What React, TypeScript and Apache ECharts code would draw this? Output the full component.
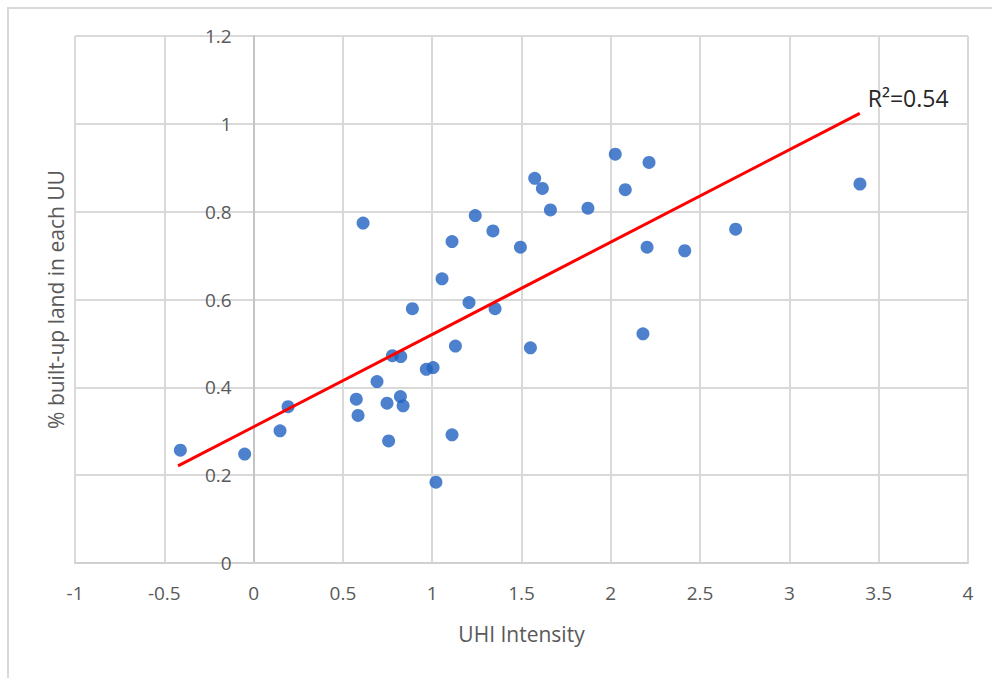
import React, { useEffect, useRef } from "react";
import * as echarts from "echarts";

const uhiIntensity = [
  -0.41, -0.05, 0.148, 0.193, 0.575, 0.585, 0.613, 0.691, 0.747, 0.756,
  0.777, 0.822, 0.824, 0.837, 0.889, 0.967, 1.005, 1.021, 1.055, 1.111,
  1.111, 1.13, 1.206, 1.241, 1.34, 1.352, 1.494, 1.55, 1.574, 1.617,
  1.662, 1.872, 2.025, 2.081, 2.18, 2.203, 2.214, 2.414, 2.699, 3.395,
];
const builtUpShare = [
  0.257, 0.248, 0.301, 0.356, 0.373, 0.336, 0.774, 0.413, 0.364, 0.278,
  0.472, 0.379, 0.47, 0.358, 0.579, 0.441, 0.445, 0.184, 0.647, 0.732,
  0.292, 0.494, 0.593, 0.791, 0.756, 0.579, 0.719, 0.49, 0.876, 0.853,
  0.804, 0.808, 0.931, 0.85, 0.522, 0.719, 0.912, 0.711, 0.76, 0.863,
];
const trendX = [-0.423, 3.394];
const trendY = [0.221, 1.024];
const rSquaredLabel = "R²=0.54";
const xAxisTitle = "UHI Intensity";
const yAxisTitle = "% built-up land in each UU";
const xMin = -1;
const xMax = 4;

const FONT = "'Open Sans', 'Noto Sans', sans-serif";

const GRID_LEFT = 75;
const GRID_RIGHT = 24;
const WIDTH = 992;
const HEIGHT = 678;

export default function App() {
  const ref = useRef<HTMLDivElement>(null);
  useEffect(() => {
    if (!ref.current) return;
    const chart = echarts.init(ref.current, undefined, { renderer: "svg" });
    const points = uhiIntensity.map((x, i) => [x, builtUpShare[i]]);
    const trend = trendX.map((x, i) => [x, trendY[i]]);
    const gridWidth = WIDTH - GRID_LEFT - GRID_RIGHT;
    // Excel-style vertical axis crossing at x = 0
    const yAxisOffset = -gridWidth * ((0 - xMin) / (xMax - xMin));
    chart.setOption({
      animation: false,
      backgroundColor: "#ffffff",
      textStyle: { fontFamily: FONT },
      graphic: [
        {
          type: "rect",
          shape: { x: 8, y: 8, width: 1000, height: 700 },
          style: { fill: "none", stroke: "#d9d9d9", lineWidth: 2 },
          silent: true,
        },
      ],
      grid: {
        left: GRID_LEFT,
        right: GRID_RIGHT,
        top: 36,
        bottom: 115,
        containLabel: false,
        outerBoundsMode: "none",
      },
      xAxis: {
        type: "value",
        min: xMin,
        max: xMax,
        interval: 0.5,
        name: xAxisTitle,
        nameLocation: "middle",
        nameGap: 60,
        nameTextStyle: { color: "#595959", fontSize: 21, fontFamily: FONT },
        axisLine: { onZero: false, lineStyle: { color: "#d0d0d0", width: 2 } },
        axisTick: { show: false },
        axisLabel: { color: "#595959", fontSize: 19, margin: 20, fontFamily: FONT },
        splitLine: { show: true, lineStyle: { color: "#d9d9d9", width: 2 } },
      },
      yAxis: {
        type: "value",
        min: 0,
        max: 1.2,
        interval: 0.2,
        offset: yAxisOffset,
        name: yAxisTitle,
        nameLocation: "middle",
        nameGap: 187,
        nameTextStyle: { color: "#595959", fontSize: 21, fontFamily: FONT },
        axisLine: { show: true, onZero: false, lineStyle: { color: "#c4c4c4", width: 2 } },
        axisTick: { show: false },
        axisLabel: { color: "#595959", fontSize: 19, margin: 22, fontFamily: FONT },
        splitLine: { show: true, lineStyle: { color: "#d9d9d9", width: 2 } },
      },
      series: [
        {
          type: "scatter",
          data: points,
          symbol: "circle",
          symbolSize: 13,
          itemStyle: { color: "#2161c0" },
          z: 3,
        },
        {
          type: "line",
          data: trend,
          showSymbol: false,
          symbol: "none",
          lineStyle: { color: "#ff0000", width: 3 },
          z: 4,
          endLabel: {
            show: true,
            formatter: rSquaredLabel,
            color: "#262626",
            fontSize: 23,
            fontFamily: FONT,
            distance: 8,
            offset: [0, -15],
          },
        },
      ],
    });
    return () => chart.dispose();
  }, []);
  return (
    <div
      ref={ref}
      style={{ position: "fixed", left: 0, top: 0, width: WIDTH, height: HEIGHT }}
    />
  );
}
